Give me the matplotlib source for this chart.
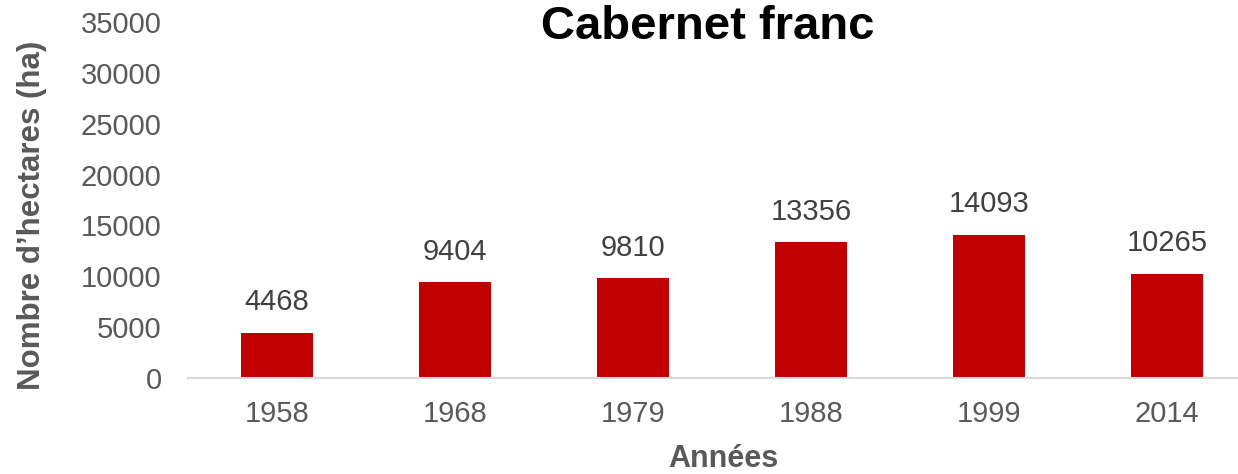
import numpy as np
import matplotlib
matplotlib.use("Agg")
import matplotlib.pyplot as plt

plt.rcParams['font.family'] = ['Liberation Sans', 'DejaVu Sans']

years = ['1958', '1968', '1979', '1988', '1999', '2014']
hectares = [4468, 9404, 9810, 13356, 14093, 10265]
y_ticks = [0, 5000, 10000, 15000, 20000, 25000, 30000, 35000]

W, H = 1238, 474
fig = plt.figure(figsize=(W / 100, H / 100), dpi=100)

# axes run a bit past the right edge, as in the source
left, right = 188, 1256
bottom, top = 378, 22
ax = fig.add_axes([left / W, 1 - bottom / H, (right - left) / W, (bottom - top) / H])

x = np.arange(len(years))
ax.bar(x, hectares, width=0.405, color='#C00000', zorder=2)

for xi, v in zip(x, hectares):
    ax.annotate(str(v), (xi, v), xytext=(0, 22), textcoords='offset points',
                ha='center', va='center', fontsize=21, color='#404040')

ax.set_xlim(-0.5, len(years) - 0.5)
ax.set_ylim(0, 35000)
ax.set_xticks(x)
ax.set_xticklabels(years)
ax.set_yticks(y_ticks)
ax.tick_params(axis='x', length=0, pad=16, labelsize=21, labelcolor='#595959')
ax.tick_params(axis='y', length=0, pad=19, labelsize=21, labelcolor='#595959')

for s in ['top', 'right', 'left']:
    ax.spines[s].set_visible(False)
ax.spines['bottom'].set_color('#D9D9D9')
ax.spines['bottom'].set_linewidth(1.5)

fig.text(708 / W, 1 - 27 / H, 'Cabernet franc', ha='center', va='center',
         fontsize=34, fontweight='bold', color='black')
fig.text(32 / W, 1 - 215 / H, 'Nombre d\u2019hectares (ha)', rotation=90,
         ha='center', va='center', fontsize=22.5, fontweight='bold', color='#595959')
fig.text(723 / W, 1 - 459 / H, 'Années', ha='center', va='center',
         fontsize=22, fontweight='bold', color='#595959')

fig.savefig('out.png', dpi=100)
plt.close(fig)
